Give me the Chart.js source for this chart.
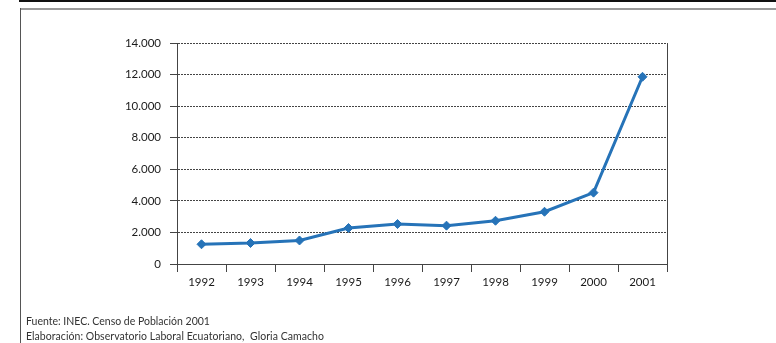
<!DOCTYPE html>
<html>
<head>
<meta charset="utf-8">
<script src="https://cdn.jsdelivr.net/npm/chart.js@4/dist/chart.umd.min.js"></script>
<style>
  html, body { margin:0; padding:0; background:#fff; }
  body { width:776px; height:343px; position:relative; overflow:hidden; font-family: Lato, "Open Sans", sans-serif; }
  #topline { position:absolute; left:19px; top:0; width:757px; height:1.5px; background:#111; }
  #frameTop { position:absolute; left:20px; top:7.5px; width:756px; height:2px; background:#9a9a9a; }
  #frameLeft { position:absolute; left:20px; top:8px; width:1px; height:335px; background:#555; }
  #chartWrap { position:absolute; left:0; top:0; width:776px; height:343px; }
  .note { position:absolute; left:26px; font-size:10.5px; line-height:12px; color:#333; white-space:nowrap; }
</style>
</head>
<body>
<div id="topline"></div>
<div id="frameTop"></div>
<div id="frameLeft"></div>
<div id="chartWrap"><canvas id="c" width="776" height="343"></canvas></div>
<div class="note" style="top:315px; letter-spacing:0px;">Fuente: INEC. Censo de Población 2001</div>
<div class="note" style="top:330px; letter-spacing:0.05px;">Elaboración: Observatorio Laboral Ecuatoriano,&nbsp; Gloria Camacho</div>
<script>
const years = ["1992","1993","1994","1995","1996","1997","1998","1999","2000","2001"];
const values = [1250, 1330, 1490, 2280, 2530, 2430, 2740, 3310, 4520, 11860];
const yTicks = [0, 2000, 4000, 6000, 8000, 10000, 12000, 14000];
const yTickLabels = ["0", "2.000", "4.000", "6.000", "8.000", "10.000", "12.000", "14.000"];

const lineColor = "#2673b8";
const gridColor = "#444";
const font = { family: "Lato, 'Open Sans', sans-serif", size: 11.5 };

new Chart(document.getElementById("c"), {
  type: "line",
  data: {
    labels: years,
    datasets: [{
      data: values,
      borderColor: lineColor,
      backgroundColor: lineColor,
      borderWidth: 3,
      pointStyle: "rectRot",
      pointRadius: 4.5,
      pointBorderWidth: 1,
      pointBackgroundColor: lineColor,
      pointBorderColor: lineColor,
      tension: 0,
      fill: false
    }]
  },
  options: {
    responsive: false,
    animation: false,
    devicePixelRatio: 1,
    layout: { padding: { left: 0, top: 43, right: 109, bottom: 0 } },
    plugins: { legend: { display: false }, tooltip: { enabled: false } },
    scales: {
      x: {
        type: "category",
        offset: true,
        grid: {
          offset: true,
          drawOnChartArea: false,
          drawTicks: true,
          tickLength: 8,
          color: gridColor,
          lineWidth: 1
        },
        border: { display: true, color: gridColor, dash: [2, 1], width: 1 },
        ticks: { font: font, color: "#1a1a1a", padding: 3, maxRotation: 0, autoSkip: false },
        afterFit: (s) => { s.height = 79; }
      },
      y: {
        min: 0, max: 14000,
        afterBuildTicks: (s) => { s.ticks = yTicks.map(v => ({ value: v })); },
        ticks: {
          font: font, color: "#1a1a1a", padding: 9,
          callback: (v) => yTickLabels[yTicks.indexOf(v)]
        },
        grid: {
          color: gridColor,
          lineWidth: 1,
          tickLength: 7,
          drawTicks: true
        },
        border: { display: true, color: gridColor, dash: [2, 1], width: 1 },
        afterFit: (s) => { s.width = 177; }
      },
      y2: {
        position: "right",
        min: 0, max: 14000,
        ticks: { display: false },
        grid: { drawOnChartArea: false, drawTicks: false },
        border: { display: true, color: gridColor, dash: [2, 1], width: 1 },
        afterFit: (s) => { s.width = 0; }
      }
    }
  }
});
</script>
</body>
</html>
